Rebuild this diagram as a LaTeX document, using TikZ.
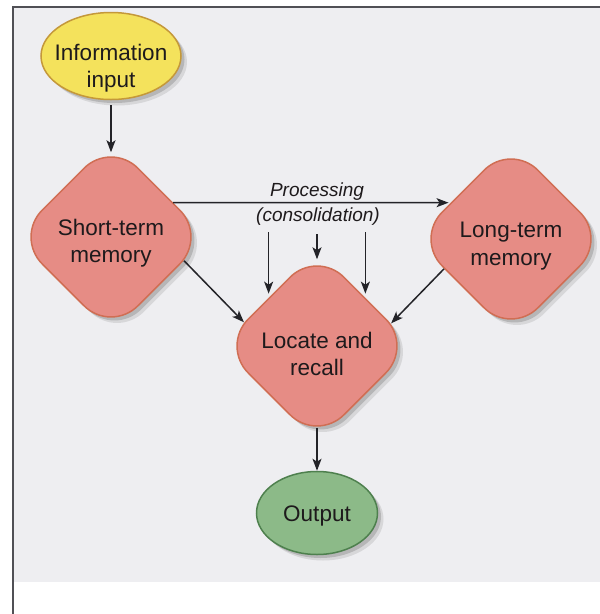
\documentclass[tikz,border=0pt]{standalone}
\usepackage{fontspec}
\setmainfont{Liberation Sans}
\usetikzlibrary{shapes.geometric,arrows.meta,shadows}
\definecolor{pagebg}{RGB}{238,238,241}
\definecolor{framec}{RGB}{80,80,85}
\definecolor{pinkfill}{RGB}{230,140,133}
\definecolor{pinkline}{RGB}{208,110,84}
\definecolor{yelfill}{RGB}{244,226,92}
\definecolor{yelline}{RGB}{196,152,58}
\definecolor{grnfill}{RGB}{140,186,136}
\definecolor{grnline}{RGB}{78,128,78}
\definecolor{inkc}{RGB}{30,26,28}
\definecolor{arrc}{RGB}{35,35,40}
\begin{document}
\begin{tikzpicture}[x=1pt,y=-1pt,
  shad/.style={drop shadow={shadow xshift=6pt,shadow yshift=-6pt,opacity=0.12,fill=black!80},
               drop shadow={shadow xshift=3.5pt,shadow yshift=-3.5pt,opacity=0.2,fill=black!80}},
  memdia/.style={diamond,aspect=1,minimum width=192pt,minimum height=192pt,inner sep=0pt,rounded corners=38pt,fill=pinkfill,draw=pinkline,line width=1.5pt,shad},
  ovalbox/.style={ellipse,inner sep=0pt,line width=1.5pt,shad},
  lbl/.style={align=center,text=inkc,font=\fontsize{22.5}{27.5}\selectfont,inner sep=0pt},
  plbl/.style={text=inkc,font=\fontsize{19}{24}\selectfont\itshape,inner sep=0pt},
  arr/.style={draw=arrc,line width=1.5pt,-{Stealth[length=12pt,width=9pt,inset=3pt]}}
]
\useasboundingbox (0,0) rectangle (600,614);
\fill[white] (0,0) rectangle (600,614);
\fill[pagebg] (13,7) rectangle (600,582);
\draw[framec,line width=1.3pt] (13,614) -- (13,7) -- (600,7);

% nodes
\node[ovalbox,fill=yelfill,draw=yelline,minimum width=140pt,minimum height=87pt] (info) at (111,56) {};
\node[lbl] (infot) at (111,68) {Information\\input};
\node[memdia] (st) at (111,237) {};
\node[lbl] (stt) at (111,243) {Short-term\\memory};
\node[memdia] (lt) at (511,239) {};
\node[lbl] (ltt) at (511,246) {Long-term\\memory};
\node[memdia] (lr) at (317,346) {};
\node[lbl] (lrt) at (317,354) {Locate and\\recall};
\node[ovalbox,fill=grnfill,draw=grnline,minimum width=121pt,minimum height=83pt] (out) at (317,513) {};
\node[lbl] (outt) at (317,515.5) {Output};
\node[plbl] (proc1) at (317,192) {Processing};
\node[plbl] (proc2) at (318,217) {(consolidation)};

% connectors
\draw[arr,shorten <=5pt,shorten >=-12pt] (info.south) -- (st.north);
\draw[arr,shorten >=2pt] (st.29) -- (lt.149);
\draw[arr] (st.-18) -- (lr.162);
\draw[arr] (lt.204) -- (lr.17);
\draw[arr,shorten <=6pt,shorten >=4pt] (proc2.south -| lr.north west) -- (lr.north west);
\draw[arr,shorten <=8pt,shorten >=-10pt] (proc2.south -| lr.north) -- (lr.north);
\draw[arr,shorten <=6pt,shorten >=4pt] (proc2.south -| lr.north east) -- (lr.north east);
\draw[arr,shorten <=-15pt] (lr.south) -- (out.north);
\end{tikzpicture}
\end{document}
